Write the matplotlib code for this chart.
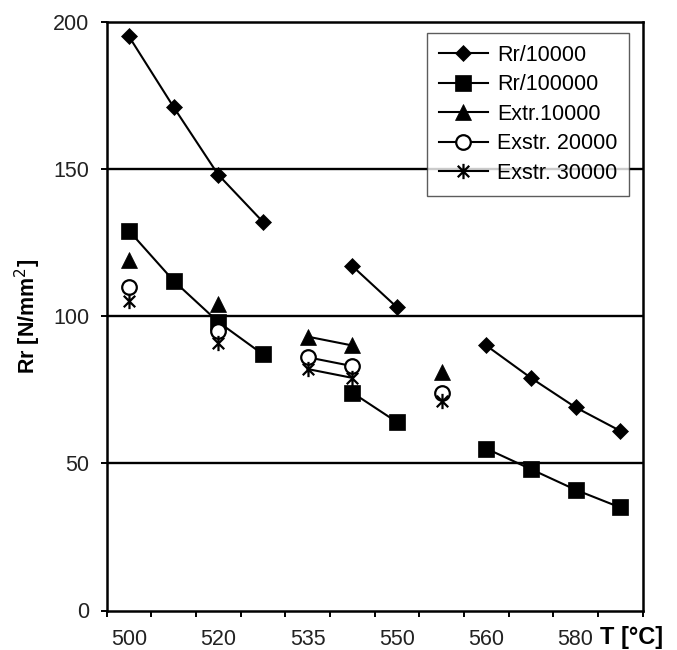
import numpy as np
import matplotlib
matplotlib.use("Agg")
import matplotlib.pyplot as plt
from matplotlib.path import Path

plt.rcParams['font.family'] = ['Liberation Sans', 'DejaVu Sans']

# 12 temperature categories; only every second one is labelled on the axis
categories = ['500', '', '520', '', '535', '', '550', '', '560', '', '580', '']
nan = np.nan
rr_10000 = [195, 171, 148, 132, nan, 117, 103, nan, 90, 79, 69, 61]
rr_100000 = [129, 112, 98, 87, nan, 74, 64, nan, 55, 48, 41, 35]
extr_10000 = [119, nan, 104, nan, 93, 90, nan, 81, nan, nan, nan, nan]
exstr_20000 = [110, nan, 95, nan, 86, 83, nan, 74, nan, nan, nan, nan]
exstr_30000 = [105, nan, 91, nan, 82, 79, nan, 71, nan, nan, nan, nan]
y_ticks = [0, 50, 100, 150, 200]

star = Path([(0, -1), (0, 1), (-0.75, -0.75), (0.75, 0.75), (-0.75, 0.75), (0.75, -0.75)],
            [Path.MOVETO, Path.LINETO, Path.MOVETO, Path.LINETO, Path.MOVETO, Path.LINETO])

fig = plt.figure(figsize=(6.77, 6.5), dpi=100)
ax = fig.add_axes([106.5 / 677, 1 - 610.5 / 650, (642.5 - 106.5) / 677, (610.5 - 21.5) / 650])

x = np.arange(len(categories))
lw = 1.5
fs = 15.5
ax.plot(x, rr_10000, color='black', lw=lw, marker='D', ms=8.5, mfc='black', mec='black', mew=0.5,
        label='Rr/10000', zorder=3)
ax.plot(x, rr_100000, color='black', lw=lw, marker='s', ms=11, mfc='black', mec='black', mew=0.5,
        label='Rr/100000', zorder=3)
ax.plot(x, extr_10000, color='black', lw=lw, marker='^', ms=12, mfc='black', mec='black', mew=0.5,
        label='Extr.10000', zorder=3)
ax.plot(x, exstr_20000, color='black', lw=lw, marker='o', ms=10.5, mfc='white', mec='black', mew=1.6,
        label='Exstr. 20000', zorder=3)
ax.plot(x, exstr_30000, color='black', lw=lw, marker=star, ms=11, mfc='black', mec='black', mew=1.6,
        label='Exstr. 30000', zorder=3)

ax.set_xlim(-0.5, len(categories) - 0.5)
ax.set_ylim(0, 200)
ax.set_yticks(y_ticks)
ax.set_yticklabels([str(v) for v in y_ticks])
lab_idx = [i for i, c in enumerate(categories) if c]
ax.set_xticks(lab_idx)
ax.set_xticklabels([categories[i] for i in lab_idx])
ax.set_xticks(np.arange(len(categories) + 1) - 0.5, minor=True)
ax.tick_params(axis='x', which='major', length=0, pad=13, labelsize=fs, colors='#222222')
ax.tick_params(axis='x', which='minor', length=4.5, width=1.4, direction='out')
ax.tick_params(axis='y', which='major', length=4.5, width=1.4, direction='out', pad=8,
               labelsize=fs, colors='#222222')
ax.tick_params(axis='both', which='both', color='black')

for v in [50, 100, 150]:
    ax.axhline(v, color='black', lw=1.7, zorder=1)
for s in ax.spines.values():
    s.set_linewidth(1.8)
    s.set_color('black')

ax.set_ylabel('Rr [N/mm$^2$]', fontsize=fs, fontweight='bold', labelpad=7)
fig.text(600 / 677, 1 - 644 / 650, 'T [°C]', fontsize=17, fontweight='bold', ha='left', va='baseline')

leg = ax.legend(loc='upper right', bbox_to_anchor=((629 - 106.5) / 536, (610.5 - 32.7) / 589),
                fontsize=fs, frameon=True, fancybox=False, handlelength=2.3, labelspacing=0.4,
                borderpad=0.55, handletextpad=0.4, borderaxespad=0)
leg.get_frame().set_edgecolor('#333333')
leg.get_frame().set_linewidth(1.0)
leg.set_zorder(5)

fig.savefig('out.png', dpi=100)
